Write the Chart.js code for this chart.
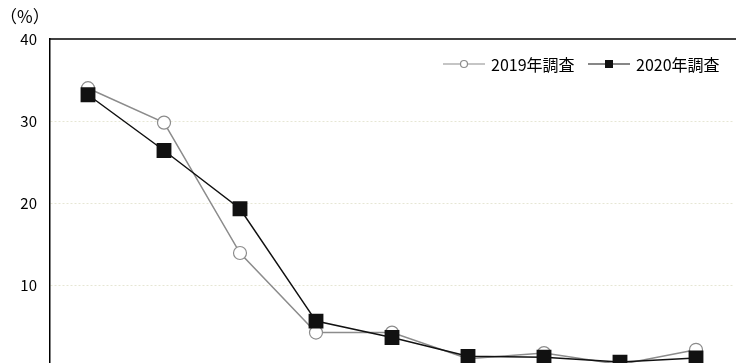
<!DOCTYPE html>
<html>
<head>
<meta charset="utf-8">
<script src="https://cdn.jsdelivr.net/npm/chart.js@4/dist/chart.umd.min.js"></script>
<style>
  html, body { margin: 0; padding: 0; background: #fff; overflow: hidden; }
  #wrap { width: 736px; height: 363px; overflow: hidden; position: relative; }
  canvas { display: block; }
</style>
</head>
<body>
<div id="wrap"><canvas id="myLineChart" width="736" height="389"></canvas></div>
<script>
const categories = ["1", "2", "3", "4", "5", "6", "7", "8", "9"];
const values2019 = [34.0, 29.8, 13.9, 4.2, 4.2, 1.0, 1.7, 0.3, 2.1];
const values2020 = [33.2, 26.4, 19.3, 5.6, 3.6, 1.3, 1.2, 0.6, 1.1];
const yTicks = [0, 10, 20, 30, 40];
const seriesNames = ["2019年調査", "2020年調査"];

const FONT = "'Noto Sans CJK JP', 'Noto Sans', sans-serif";

// top frame line, unit label and the line+marker legend
const frameAndLegend = {
  id: "frameAndLegend",
  afterDraw(chart) {
    const { ctx, chartArea } = chart;
    ctx.save();
    ctx.strokeStyle = "#000";
    ctx.lineWidth = 1.5;
    ctx.beginPath();
    ctx.moveTo(chartArea.left, chartArea.top);
    ctx.lineTo(chart.width, chartArea.top);
    ctx.stroke();

    ctx.fillStyle = "#000";
    ctx.font = "17px " + FONT;
    ctx.textBaseline = "middle";
    ctx.textAlign = "left";
    ctx.fillText("（%）", 0, 17);

    const y = 64;
    const items = [
      { x: 443, ds: chart.data.datasets[0] },
      { x: 588, ds: chart.data.datasets[1] },
    ];
    items.forEach((it) => {
      ctx.strokeStyle = it.ds.borderColor;
      ctx.lineWidth = 1.2;
      ctx.beginPath();
      ctx.moveTo(it.x, y);
      ctx.lineTo(it.x + 42, y);
      ctx.stroke();
      const cx = it.x + 21;
      if (it.ds.pointStyle === "rect") {
        ctx.fillStyle = it.ds.pointBackgroundColor;
        ctx.fillRect(cx - 4, y - 4, 8, 8);
      } else {
        ctx.beginPath();
        ctx.arc(cx, y, 3.5, 0, Math.PI * 2);
        ctx.fillStyle = "#fff";
        ctx.fill();
        ctx.strokeStyle = it.ds.pointBorderColor;
        ctx.stroke();
      }
      ctx.fillStyle = "#000";
      ctx.font = "16px " + FONT;
      ctx.fillText(it.ds.label, it.x + 48, y + 1);
    });
    ctx.restore();
  },
};

const ctx = document.getElementById("myLineChart").getContext("2d");

const myLineChart = new Chart(ctx, {
  type: "line",
  data: {
    labels: categories,
    datasets: [
      {
        label: seriesNames[0],
        data: values2019,
        borderColor: "#8c8c8c",
        borderWidth: 1.5,
        pointStyle: "circle",
        pointRadius: 6.5,
        pointBackgroundColor: "#ffffff",
        pointBorderColor: "#8c8c8c",
        pointBorderWidth: 1.2,
        tension: 0,
        order: 2,
      },
      {
        label: seriesNames[1],
        data: values2020,
        borderColor: "#111111",
        borderWidth: 1.5,
        pointStyle: "rect",
        pointRadius: 10.5,
        pointBackgroundColor: "#111111",
        pointBorderColor: "#111111",
        pointBorderWidth: 0,
        tension: 0,
        order: 1,
      },
    ],
  },
  options: {
    responsive: false,
    maintainAspectRatio: false,
    animation: false,
    layout: {
      autoPadding: false,
      padding: { left: 0, top: 39, right: 2, bottom: 13 },
    },
    scales: {
      x: {
        offset: true,
        ticks: { display: false },
        grid: { display: false, drawTicks: false },
        border: { display: false },
      },
      y: {
        min: yTicks[0],
        max: yTicks[yTicks.length - 1],
        afterFit(scale) {
          scale.width = 50;
        },
        afterBuildTicks(scale) {
          scale.ticks = yTicks.map((v) => ({ value: v }));
        },
        ticks: {
          padding: 13,
          color: "#000",
          font: { family: FONT, size: 15 },
          callback: (v) => (v === 0 ? "" : v),
        },
        grid: {
          drawTicks: false,
          color: (c) =>
            c.tick && (c.tick.value === 0 || c.tick.value === 40)
              ? "rgba(0,0,0,0)"
              : "#e6e6d4",
          lineWidth: 1,
        },
        border: { color: "#000", width: 1.5, dash: [2, 2] },
      },
    },
    plugins: {
      legend: { display: false },
      tooltip: { enabled: false },
    },
  },
  plugins: [frameAndLegend],
});
</script>
</body>
</html>
